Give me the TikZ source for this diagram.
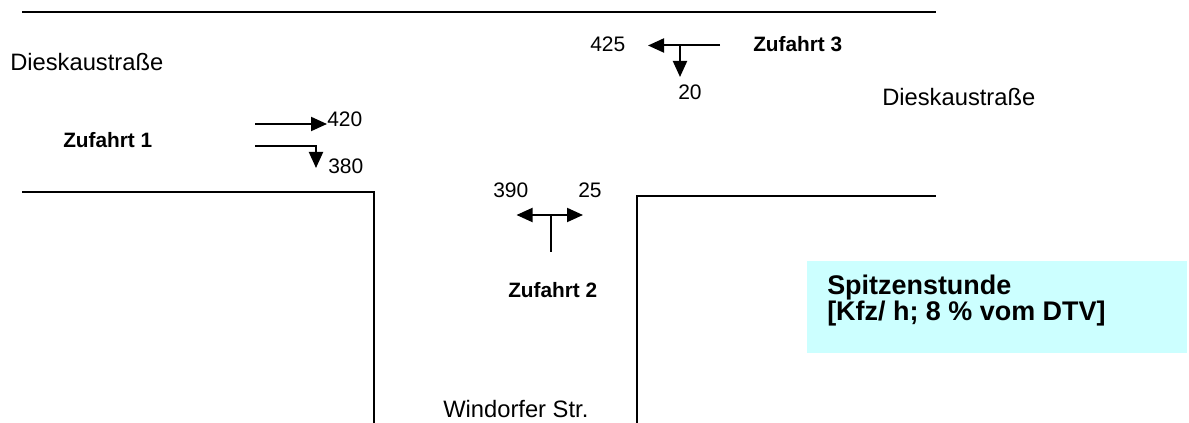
\documentclass[tikz,border=0pt]{standalone}
\usepackage{fontspec}
\setmainfont{Liberation Sans}
\usetikzlibrary{arrows.meta}
\definecolor{boxcol}{HTML}{CCFFFF}
\begin{document}
\begin{tikzpicture}[x=0.75pt,y=-0.75pt,
  road/.style={line width=1.5pt},
  flow/.style={line width=1.5pt,-{Triangle[length=12pt,width=10.5pt]}},
  flowboth/.style={line width=1.5pt,{Triangle[length=12pt,width=10.5pt]}-{Triangle[length=12pt,width=10.5pt]}},
  stem/.style={line width=1.2pt},
  street/.style={anchor=base west,inner sep=0pt,font=\fontsize{17.8}{20}\selectfont},
  num/.style={anchor=base west,inner sep=0pt,font=\fontsize{15.75}{18}\selectfont},
  zuf/.style={anchor=base west,inner sep=0pt,font=\bfseries\fontsize{15.6}{18}\selectfont},
  boxtext/.style={anchor=base west,inner sep=0pt,font=\bfseries\fontsize{20.2}{24}\selectfont}]
\useasboundingbox (0,0) rectangle (1189,423);
% roads
\coordinate (t1) at (22,12); \coordinate (t2) at (936,12);
\coordinate (l1) at (22,192); \coordinate (l2) at (374,192); \coordinate (l3) at (374,423);
\coordinate (r1) at (637,423); \coordinate (r2) at (637,196.5); \coordinate (r3) at (936,196.5);
\draw[road] (t1) -- (t2);
\draw[road] (l1) -- (l2) -- (l3);
\draw[road] (r1) -- (r2) -- (r3);
% street labels
\node[street] (dl) at (10,71) {Dieskaustraße};
\node[street] (dr) at (882,106) {Dieskaustraße};
\node[street] (ws) at (443,418) {Windorfer Str.};
% Zufahrt 1
\node[zuf] (z1) at (63,148) {Zufahrt 1};
\coordinate (a1s) at (255,124); \coordinate (a1e) at (327,124);
\draw[flow] (a1s) -- (a1e);
\coordinate (a2s) at (255,146.5); \coordinate (a2c) at (316,146.5); \coordinate (a2e) at (316,168);
\draw[flow] (a2s) -- (a2c) -- (a2e);
\node[num] (n420) at (327,127) {420};
\node[num] (n380) at (328,174) {380};
% Zufahrt 2
\node[zuf] (z2) at (508,298) {Zufahrt 2};
\coordinate (b1) at (516.5,215); \coordinate (b2) at (583,215);
\coordinate (bm) at (551,215); \coordinate (bs) at (551,252);
\draw[flowboth] (b1) -- (b2);
\draw[stem] (bs) -- (bm);
\node[num] (n390) at (493,198) {390};
\node[num] (n25) at (578,198) {25};
% Zufahrt 3
\node[zuf] (z3) at (753,52) {Zufahrt 3};
\coordinate (c1) at (720,45.5); \coordinate (c2) at (648,45.5);
\coordinate (cm) at (680,45.5); \coordinate (c3) at (680,77);
\draw[flow] (c1) -- (c2);
\draw[flow] (cm) -- (c3);
\node[num] (n425) at (590,52) {425};
\node[num] (n20) at (678,100) {20};
% legend box
\node[fill=boxcol,anchor=north west,inner sep=0pt,minimum width=285pt,minimum height=69pt] (box) at (807,261) {};
\node[boxtext] (bt1) at (827,295) {Spitzenstunde};
\node[boxtext] (bt2) at (827,321) {{[}Kfz/ h; 8 \% vom DTV{]}};
\end{tikzpicture}
\end{document}
